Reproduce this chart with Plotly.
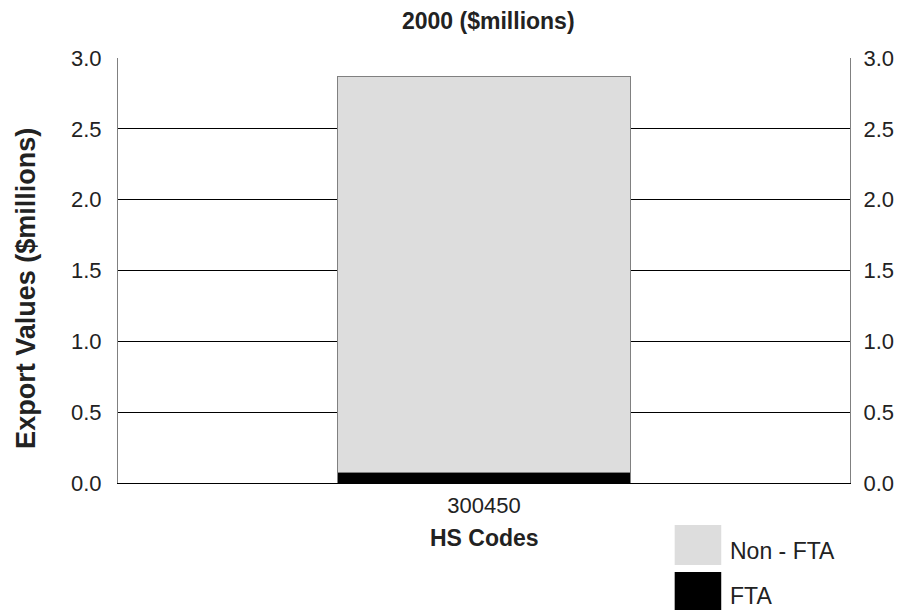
import plotly.graph_objects as go

categories = ["300450"]
fta = [0.074]
non_fta = [2.795]
y_ticks = [0.0, 0.5, 1.0, 1.5, 2.0, 2.5, 3.0]
y_tick_labels = ["0.0", "0.5", "1.0", "1.5", "2.0", "2.5", "3.0"]

FONT = "Liberation Sans, Arial, sans-serif"
TXT = "#222222"

# page has an 8px body margin: figure is placed at (8, 8)
OFF = 8
L, T, R, B = 118, 58, 857, 483  # plot area in page pixels
W, H = 906 - OFF, 610 - OFF


def px(X):
    return (X - L) / (R - L)


def py(Y):
    return (B - Y) / (B - T)


fig = go.Figure()
fig.add_trace(go.Bar(x=categories, y=fta, name="FTA",
                     marker=dict(color="#000000", line=dict(color="#808080", width=1)), showlegend=False))
fig.add_trace(go.Bar(x=categories, y=non_fta, name="Non - FTA",
                     marker=dict(color="#dddddd", line=dict(color="#808080", width=1)), showlegend=False))
fig.add_trace(go.Scatter(x=categories, y=[None], yaxis="y2", showlegend=False, hoverinfo="skip"))

fig.update_layout(
    barmode="stack",
    bargap=0.6,
    width=W, height=H,
    margin=dict(l=L - OFF, r=W - (R - OFF), t=T - OFF, b=H - (B - OFF)),
    paper_bgcolor="white", plot_bgcolor="white",
    font=dict(family=FONT, size=22, color=TXT),
    xaxis=dict(showgrid=False, showline=True, linecolor="#000000", linewidth=1,
               ticks="", tickfont=dict(size=22), ticklabelstandoff=3),
    yaxis=dict(range=[0, 3.0], tickvals=y_ticks, ticktext=y_tick_labels,
               showgrid=True, gridcolor="#000000", gridwidth=1,
               showline=True, linecolor="#808080", linewidth=1, zeroline=False,
               ticks="", tickfont=dict(size=22), ticklabelstandoff=11),
    yaxis2=dict(range=[0, 3.0], tickvals=y_ticks, ticktext=y_tick_labels, overlaying="y", side="right",
                showgrid=False, showline=True, linecolor="#808080", linewidth=1, zeroline=False,
                ticks="", tickfont=dict(size=22), ticklabelstandoff=8),
)

# titles
fig.add_annotation(text="<b>2000 ($millions)</b>", xref="paper", yref="paper", x=px(492), y=py(21),
                   xanchor="center", yanchor="middle", showarrow=False, font=dict(size=23, color=TXT))
fig.add_annotation(text="<b>HS Codes</b>", xref="paper", yref="paper", x=px(488), y=py(538),
                   xanchor="center", yanchor="middle", showarrow=False, font=dict(size=23, color=TXT))
fig.add_annotation(text="<b>Export Values ($millions)</b>", xref="paper", yref="paper", x=px(25), y=py(288),
                   xanchor="center", yanchor="middle", textangle=-90, showarrow=False,
                   font=dict(size=27, color=TXT))

# legend drawn manually (large swatches)
legend_items = [("Non - FTA", "#dddddd", 525, 565, 551), ("FTA", "#000000", 572, 612, 596)]
for label, color, y0, y1, yt in legend_items:
    fig.add_shape(type="rect", xref="paper", yref="paper",
                  x0=px(680), x1=px(727), y0=py(y1), y1=py(y0),
                  fillcolor=color, line=dict(width=0))
    fig.add_annotation(text=label, xref="paper", yref="paper",
                       x=px(734), y=py(yt),
                       xanchor="left", yanchor="middle", showarrow=False,
                       font=dict(size=23, color=TXT))

fig.write_html("out.html", config={"displayModeBar": False})
